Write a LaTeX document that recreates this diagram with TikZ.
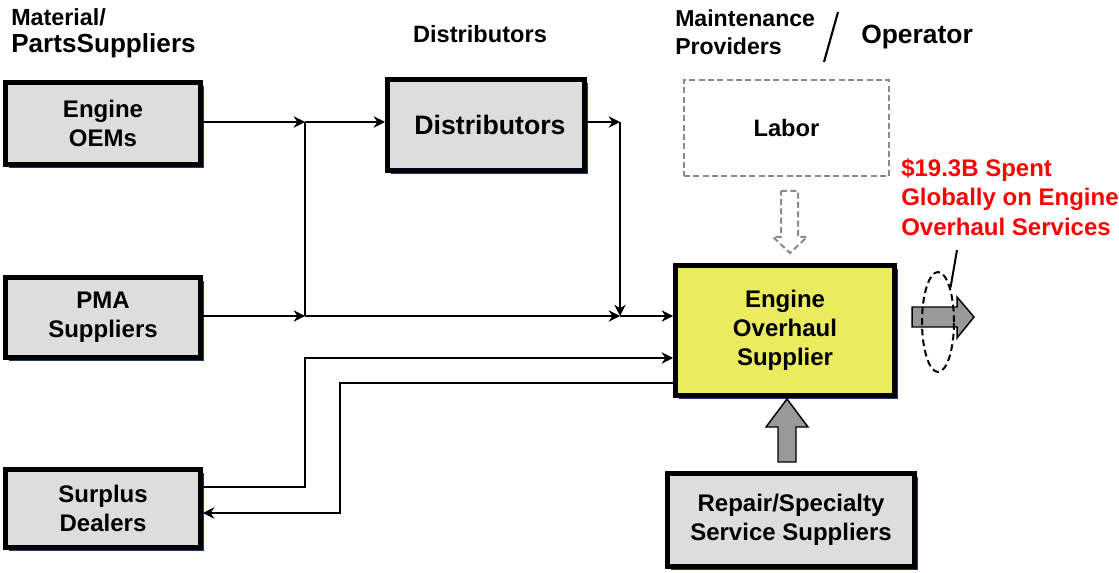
\documentclass[tikz,border=0pt]{standalone}
\usepackage{fontspec}
\setmainfont{Liberation Sans}
\usetikzlibrary{arrows.meta,shapes.geometric,shadows}
\definecolor{boxgray}{HTML}{DDDDDD}
\definecolor{eosyellow}{HTML}{EBEB5F}
\definecolor{navy}{HTML}{1F3A68}
\definecolor{dashgray}{HTML}{8A8A8A}
\definecolor{fatgray}{HTML}{999999}
\newcommand\fsz[2]{\fontsize{#1}{#2}\selectfont}
\begin{document}
\begin{tikzpicture}[x=0.75pt,y=-0.75pt,
  box/.style={draw, line width=3.75pt, fill=boxgray, align=center, inner sep=0pt,
    font=\bfseries\fsz{18}{21.9},
    drop shadow={shadow xshift=2.6pt, shadow yshift=-2.6pt, fill=navy, opacity=1}},
  hdr/.style={font=\bfseries\fsz{18}{21.9}, inner sep=0pt, align=left},
  plain/.style={line width=1.5pt},
  conn/.style={line width=1.5pt, -{Stealth[length=8.5pt,width=8.5pt,inset=2.8pt]}},
  fat/.style={draw=black, line width=1.1pt, fill=fatgray, line join=miter},
  ghost/.style={draw=dashgray, line width=1.6pt, dash pattern=on 4.5pt off 2.5pt}]
\useasboundingbox (0,0) rectangle (1119,573);

% headers
\node[hdr, anchor=base west, font=\bfseries\fsz{17.5}{21}] (hmat) at (11,26) {Material/};
\node[hdr, anchor=base west, font=\bfseries\fsz{19.6}{23}] (hparts) at (11,53) {PartsSuppliers};
\node[hdr, anchor=base, font=\bfseries\fsz{17.7}{21}] (hdist) at (480,43) {Distributors};
\node[hdr, anchor=base west, font=\bfseries\fsz{17.3}{21}] (hmaint) at (675,27) {Maintenance};
\node[hdr, anchor=base west, font=\bfseries\fsz{17.3}{21}] (hprov) at (675,55) {Providers};
\node[hdr, anchor=base west, font=\bfseries\fsz{19.8}{23}] (hop) at (861,44) {Operator};
\coordinate (sl1) at (838,12);
\coordinate (sl2) at (824,62);
\draw[line width=1.6pt] (sl1) -- (sl2);

% boxes
\node[box, minimum width=146.25pt, minimum height=61.5pt] (oem) at (103,123.5) {Engine\\OEMs};
\node[box, minimum width=146.25pt, minimum height=60pt] (pma) at (103,317.5) {PMA\\Suppliers};
\node[box, minimum width=146.25pt, minimum height=58.5pt] (surplus) at (103,508.5) {Surplus\\Dealers};
\node[box, minimum width=147.75pt, minimum height=68.25pt, font=\bfseries\fsz{20}{24}] (dist) at (486,125) {\hspace*{6pt}Distributors};
\node[box, fill=eosyellow, minimum width=164.25pt, minimum height=97.5pt] (eos) at (785,330.5) {Engine\\Overhaul\\Supplier};
\node[box, minimum width=185.25pt, minimum height=69.75pt] (repair) at (791,520) {Repair/Specialty\\Service Suppliers};
\node[ghost, minimum width=153.75pt, minimum height=72pt, inner sep=0pt, font=\bfseries\fsz{17.8}{21.9}] (labor) at (786.5,128) {Labor};

% junctions
\coordinate (j1) at (305,122);
\coordinate (j2) at (305,316);
\coordinate (j3) at (620,316);
\coordinate (j4) at (620,122);
\coordinate (s1) at (305,487);
\coordinate (s2) at (305,358);
\coordinate (r1) at (340,383);
\coordinate (r2) at (340,513);

% connectors
\draw[conn] (oem.east |- j1) -- (j1);
\draw[conn] (j1) -- (dist.west |- j1);
\draw[plain] (j1) -- (j2);
\draw[conn] (pma.east |- j2) -- (j2);
\draw[conn] (j2) -- (j3);
\draw[conn] (j3) -- (eos.west |- j3);
\draw[conn] (dist.east |- j4) -- (j4);
\draw[conn] (j4) -- (j3);
\draw[conn] (surplus.east |- s1) -- (s1) -- (s2) -- (eos.west |- s2);
\draw[conn] (eos.west |- r1) -- (r1) -- (r2) -- (surplus.east |- r2);

% labor dashed arrow
\draw[ghost, line width=1.5pt] (781,191) -- (798,191) -- (798,237) -- (807,237) -- (790,253) -- (773,237) -- (781,237) -- cycle;

% repair fat arrow up
\draw[fat] (778,462) -- (796,462) -- (796,427) -- (808,427) -- (787,399) -- (766,427) -- (778,427) -- cycle;

% output fat arrow
\draw[fat] (912,307) -- (957,307) -- (957,297) -- (974,317) -- (957,338) -- (957,327) -- (912,327) -- cycle;

% ellipse and note
\node[ellipse, draw, line width=1.5pt, dash pattern=on 5pt off 3pt, minimum width=24pt, minimum height=75pt, inner sep=0pt] (ell) at (938,322) {};
\node[anchor=west, align=left, text=red, inner sep=0pt, font=\bfseries\fsz{18}{22.1}] (note) at (901,197) {\$19.3B Spent\\Globally on Engine\\Overhaul Services};
\coordinate (lead) at (957,250);
\draw[line width=1.5pt] (ell.70) -- (lead);
\end{tikzpicture}
\end{document}
